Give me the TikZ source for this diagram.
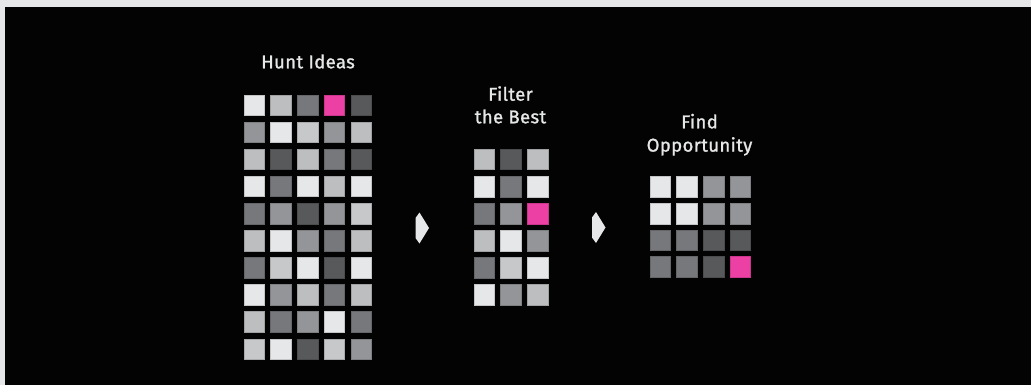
\documentclass[tikz,border=0pt]{standalone}
\usepackage{fontspec}
\setmainfont{Fira Sans}
\newfontfamily\lblfont[FakeBold=1.2, LetterSpace=2]{Fira Sans}
\definecolor{cL}{HTML}{E6E7E8}
\definecolor{cA}{HTML}{BCBEC0}
\definecolor{cK}{HTML}{C7C8CA}
\definecolor{cB}{HTML}{939598}
\definecolor{cC}{HTML}{77787B}
\definecolor{cD}{HTML}{58595B}
\definecolor{cP}{HTML}{EC40A4}
\definecolor{frame}{HTML}{E6E7E8}
\definecolor{bg}{HTML}{030303}
\tikzset{
  sq/.style={minimum width=20.5pt, minimum height=20.5pt, inner sep=0pt, outer sep=0pt,
    anchor=north west, fill=#1, draw=#1!85!black, line width=0.7pt},
  lbl/.style={text=cL, font=\lblfont\fontsize{18.5}{22}\selectfont, inner sep=0pt, anchor=base},
  arr/.style={fill=cL, draw=none}
}
\begin{document}
\begin{tikzpicture}[x=1pt,y=-1pt]
\useasboundingbox (0,0) rectangle (1031,385);
\fill[frame] (0,0) rectangle (1031,385);
\fill[bg] (5,7) rectangle (1031,385);
% left grid
\foreach \row [count=\r from 0] in {{cL,cA,cC,cP,cD},{cB,cL,cK,cB,cA},{cA,cD,cA,cC,cD},{cL,cC,cL,cA,cL},{cC,cB,cD,cB,cK},{cA,cL,cB,cC,cA},{cC,cK,cL,cD,cL},{cL,cB,cA,cC,cA},{cA,cC,cB,cL,cC},{cK,cL,cD,cK,cB}}{
  \foreach \col [count=\c from 0] in \row {
    \node[sq=\col] (h-\r-\c) at ({244+26.75*\c},{95+27.1*\r}) {};
  }
}
% middle grid
\foreach \row [count=\r from 0] in {{cA,cD,cA},{cL,cC,cL},{cC,cB,cP},{cA,cL,cB},{cC,cK,cL},{cL,cB,cA}}{
  \foreach \col [count=\c from 0] in \row {
    \node[sq=\col] (f-\r-\c) at ({474+26.7*\c},{149.3+27.1*\r}) {};
  }
}
% right grid
\foreach \row [count=\r from 0] in {{cL,cL,cB,cB},{cL,cL,cB,cB},{cC,cC,cD,cD},{cC,cC,cD,cP}}{
  \foreach \col [count=\c from 0] in \row {
    \node[sq=\col] (o-\r-\c) at ({650+26.7*\c},{176.7+26.7*\r}) {};
  }
}
% labels
\node[lbl] (t1) at (308,68.3) {Hunt Ideas};
\node[lbl] (t2a) at (510.5,100.7) {Filter};
\node[lbl] (t2b) at (510.5,123.3) {the Best};
\node[lbl] (t3a) at (699.5,128.3) {Find};
\node[lbl] (t3b) at (699.5,151.6) {Opportunity};
% arrows
\fill[arr] (415.5,218) -- (419.5,212.5) -- (429,228) -- (419.5,243.5) -- (415.5,238) -- cycle;
\fill[arr] (592,217.5) -- (596,212) -- (605.5,227.5) -- (596,243) -- (592,237.5) -- cycle;
\end{tikzpicture}
\end{document}
